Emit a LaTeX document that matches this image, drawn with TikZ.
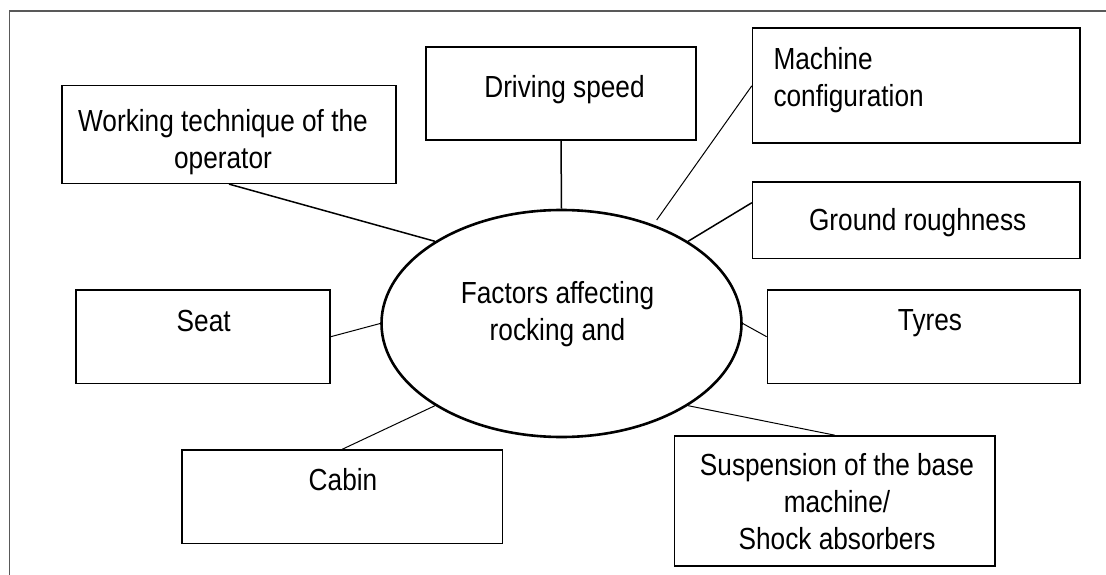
\documentclass[tikz,border=0pt]{standalone}
\usepackage{fontspec}
\setmainfont{Liberation Sans}[FakeStretch=0.86]
\usepackage{tikz}
\usetikzlibrary{shapes.geometric,calc}
\tikzset{
  frame/.style={draw=black!65, line width=1.2pt},
  factor/.style={draw=black, line width=1.6pt, rectangle, inner sep=0pt},
  hub/.style={draw=black, line width=2.6pt, ellipse, inner sep=0pt},
  link/.style={draw=black, line width=1.5pt},
  thinlink/.style={draw=black, line width=1pt},
  txt/.style={inner sep=0pt, font=\fontsize{30.5}{37}\selectfont, align=center}
}

\begin{document}
\begin{tikzpicture}[x=1pt, y=-1pt]
  \useasboundingbox (0,0) rectangle (1106,575);
  \draw[frame] (9.7,575) |- (1106,11);

  \node[hub, minimum width=360, minimum height=227] (fm) at (561.5,323.5) {};
  \node[txt] (fmtext) at (557.5,314.2) {Factors affecting\\rocking and};

  \node[factor, minimum width=334, minimum height=97.6] (wt) at (229,134.5) {};
  \node[factor, minimum width=270, minimum height=93] (ds) at (561,93.5) {};
  \node[factor, minimum width=327.3, minimum height=115] (mc) at (916.3,85.8) {};
  \node[factor, minimum width=327.3, minimum height=76.6] (gr) at (916.3,220) {};
  \node[factor, minimum width=312.6, minimum height=93.3] (ty) at (923.7,336.7) {};
  \node[factor, minimum width=320.4, minimum height=130] (sus) at (834.8,501) {};
  \node[factor, minimum width=254, minimum height=93.3] (seat) at (203,336.7) {};
  \node[factor, minimum width=320.5, minimum height=93.3] (cab) at (342.3,496.7) {};

  \node[txt] (wttext) at (223,141.7) {Working technique of the\\operator};
  \node[txt, anchor=base] (dstext) at (564.5,97.3) {Driving speed};
  \node[txt, align=left, anchor=west] (mctext) at (773.3,79.7) {Machine\\configuration};
  \node[txt, anchor=base] (grtext) at (917.7,230) {Ground roughness};
  \node[txt, anchor=base] (tytext) at (930,330) {Tyres};
  \node[txt] (sustext) at (837,501.9) {Suspension of the base\\machine/\\Shock absorbers};
  \node[txt, anchor=base] (seattext) at (203.7,331.7) {Seat};
  \node[txt, anchor=base] (cabtext) at (343,490) {Cabin};

  \coordinate (mcend) at (656.7,220);
  \draw[link] (wt.south) -- (fm.147);
  \draw[link] (ds.south) -- (fm.north);
  \draw[thinlink] (mc.west) -- (mcend);
  \draw[link] (gr.174) -- (fm.33);
  \draw[thinlink] (ty.west) -- (fm.east);
  \draw[thinlink] (sus.north) -- (fm.-33);
  \draw[thinlink] (seat.east) -- (fm.west);
  \draw[thinlink] (cab.north) -- (fm.-147);
\end{tikzpicture}
\end{document}
